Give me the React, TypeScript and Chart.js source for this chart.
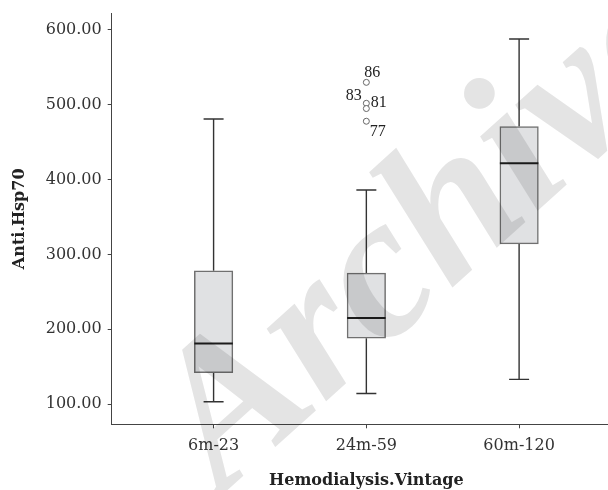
import React, { useEffect, useRef } from "react";
import { Chart, registerables } from "chart.js";

Chart.register(...registerables);

// ---- data ----
const categories = ["6m-23", "24m-59", "60m-120"];
const whiskerLow = [103, 114, 133];
const q1 = [142, 188, 314];
const median = [181, 215, 422];
const q3 = [278, 275, 471];
const whiskerHigh = [481, 386, 588];
const outlierGroup = [1, 1, 1, 1];
const outlierValues = [530, 502, 495, 478];
const outlierIds = ["86", "83", "81", "77"];
const yTicks = [100, 200, 300, 400, 500, 600];

// ---- styles ----
const outlierLabelStyle = [
  { dx: -2, dy: -5, align: "left" },
  { dx: -4.5, dy: -3, align: "right" },
  { dx: 4.5, dy: -2, align: "left" },
  { dx: 3.5, dy: 15, align: "left" },
];
const TICK_FONT = { family: "'DejaVu Serif'", size: 16 };
const TITLE_FONT = { family: "'DejaVu Serif'", size: 16, weight: "bold" as const };
const BOX_HALF = 19.25;
const CAP_HALF = 10;

const boxPlugin = {
  id: "boxExtras",
  beforeDatasetsDraw(chart: any) {
    const { ctx, scales } = chart;
    const xs = scales.x;
    const ys = scales.y;
    ctx.save();
    ctx.strokeStyle = "#333";
    ctx.lineWidth = 1.4;
    categories.forEach((_, i) => {
      const x = xs.getPixelForValue(i);
      const yLo = ys.getPixelForValue(whiskerLow[i]);
      const yHi = ys.getPixelForValue(whiskerHigh[i]);
      const yQ1 = ys.getPixelForValue(q1[i]);
      const yQ3 = ys.getPixelForValue(q3[i]);
      ctx.beginPath();
      ctx.moveTo(x, yQ3);
      ctx.lineTo(x, yHi);
      ctx.moveTo(x - CAP_HALF, yHi);
      ctx.lineTo(x + CAP_HALF, yHi);
      ctx.moveTo(x, yQ1);
      ctx.lineTo(x, yLo);
      ctx.moveTo(x - CAP_HALF, yLo);
      ctx.lineTo(x + CAP_HALF, yLo);
      ctx.stroke();
    });
    ctx.restore();
  },
  afterDatasetsDraw(chart: any) {
    const { ctx, scales } = chart;
    const xs = scales.x;
    const ys = scales.y;
    ctx.save();
    ctx.strokeStyle = "#1c1c1c";
    ctx.lineWidth = 2;
    categories.forEach((_, i) => {
      const x = xs.getPixelForValue(i);
      const ym = ys.getPixelForValue(median[i]);
      ctx.beginPath();
      ctx.moveTo(x - BOX_HALF, ym);
      ctx.lineTo(x + BOX_HALF, ym);
      ctx.stroke();
    });
    ctx.fillStyle = "#222";
    ctx.font = "16px 'Liberation Serif'";
    ctx.textBaseline = "alphabetic";
    outlierValues.forEach((v, k) => {
      const st = outlierLabelStyle[k];
      const x = xs.getPixelForValue(outlierGroup[k]);
      const y = ys.getPixelForValue(v);
      ctx.textAlign = st.align as CanvasTextAlign;
      ctx.fillText(outlierIds[k], x + st.dx, y + st.dy);
    });
    ctx.restore();
  },
  afterDraw(chart: any) {
    const { ctx } = chart;
    ctx.save();
    ctx.globalCompositeOperation = "multiply";
    ctx.fillStyle = "#e4e4e4";
    ctx.font = "italic bold 204px 'Liberation Serif'";
    ctx.translate(222, 495);
    ctx.rotate((-42 * Math.PI) / 180);
    ctx.textAlign = "left";
    ctx.textBaseline = "alphabetic";
    ctx.fillText("Archive", 0, 0);
    ctx.restore();
  },
};

export default function App() {
  const ref = useRef<HTMLCanvasElement | null>(null);
  useEffect(() => {
    if (!ref.current) return;
    const chart = new Chart(ref.current, {
      type: "bar",
      data: {
        datasets: [
          {
            type: "bar",
            data: categories.map((_, i) => ({ x: i, y: [q1[i], q3[i]] })) as any,
            backgroundColor: "#e0e1e3",
            borderColor: "#707070",
            borderWidth: 1.5,
            borderSkipped: false,
            barThickness: 38.5,
          } as any,
          {
            type: "scatter",
            data: outlierValues.map((v, k) => ({ x: outlierGroup[k], y: v })),
            pointRadius: 3,
            pointStyle: "circle",
            borderColor: "#666",
            backgroundColor: "#fff",
            borderWidth: 1,
            showLine: false,
          } as any,
        ],
      },
      options: {
        responsive: false,
        animation: false,
        devicePixelRatio: 1,
        layout: { padding: { top: 13.3, bottom: 0, left: 0, right: 1 } },
        plugins: {
          legend: { display: false },
          tooltip: { enabled: false },
        },
        scales: {
          x: {
            type: "linear",
            min: -0.667,
            max: 2.667,
            offset: false,
            afterBuildTicks: (s: any) => {
              s.ticks = categories.map((_, i) => ({ value: i }));
            },
            afterFit: (s: any) => {
              s.height = 65.7;
              s.paddingLeft = 0;
              s.paddingRight = 0;
            },
            ticks: {
              callback: (v: any) => categories[v] ?? "",
              font: TICK_FONT,
              color: "#333",
              padding: 8,
              maxRotation: 0,
              autoSkip: false,
            },
            grid: {
              display: true,
              offset: false,
              drawOnChartArea: false,
              drawTicks: true,
              tickLength: 4,
              color: "#444",
            },
            border: { display: true, color: "#444", width: 1 },
            title: {
              display: true,
              text: "Hemodialysis.Vintage",
              font: TITLE_FONT,
              color: "#222",
              padding: { top: 0, bottom: 0 },
            },
          },
          y: {
            type: "linear",
            min: 72.9,
            max: 622.3,
            afterBuildTicks: (s: any) => {
              s.ticks = yTicks.map((v) => ({ value: v }));
            },
            afterFit: (s: any) => {
              s.width = 111.7;
              s.paddingTop = 0;
              s.paddingBottom = 0;
            },
            ticks: {
              callback: (v: any) => Number(v).toFixed(2),
              font: TICK_FONT,
              color: "#333",
              padding: 6,
            },
            grid: {
              display: true,
              drawOnChartArea: false,
              drawTicks: true,
              tickLength: 4,
              color: "#444",
            },
            border: { display: true, color: "#444", width: 1 },
            title: {
              display: true,
              text: "Anti.Hsp70",
              font: TITLE_FONT,
              color: "#222",
              padding: { top: 10.4, bottom: 0 },
            },
          },
        },
      } as any,
      plugins: [boxPlugin],
    });
    return () => chart.destroy();
  }, []);
  return (
    <div
      style={{
        position: "fixed",
        left: 0,
        top: 0,
        width: 608,
        height: 490,
        overflow: "hidden",
        background: "#fff",
      }}
    >
      <canvas ref={ref} width={626} height={490} style={{ width: 626, height: 490, display: "block" }} />
    </div>
  );
}
